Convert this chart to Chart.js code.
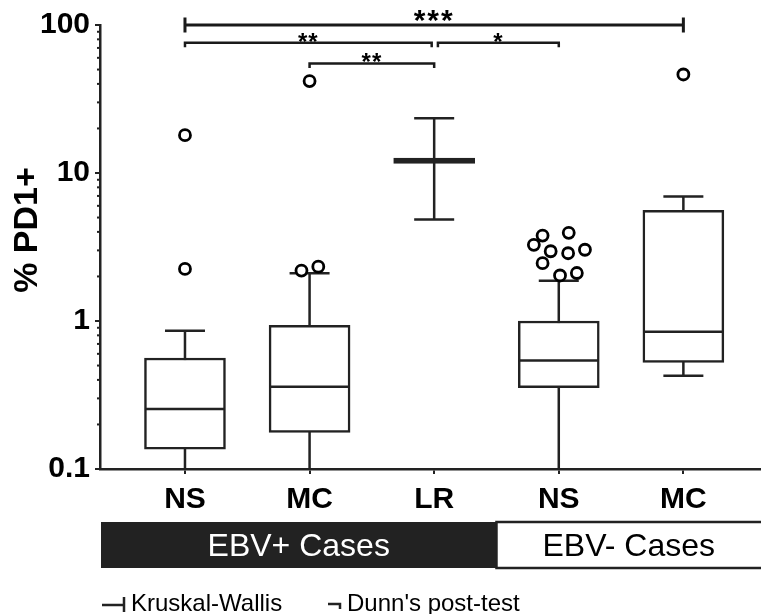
<!DOCTYPE html>
<html>
<head>
<meta charset="utf-8">
<script src="https://cdn.jsdelivr.net/npm/chart.js@4.4.0/dist/chart.umd.min.js"></script>
<style>
    html, body { margin: 0; padding: 0; background: #fff; }
</style>
</head>
<body>
<canvas id="chart" width="761" height="614"></canvas>
<script>
var categories = ['NS', 'MC', 'LR', 'NS', 'MC'];
var whiskerLow = [0.05, 0.05, 4.85, 0.05, 0.427];
var q1 = [0.136, 0.177, 11.6, 0.355, 0.525];
var median = [0.254, 0.359, 12.1, 0.54, 0.846];
var q3 = [0.562, 0.935, 12.6, 1.0, 5.6];
var whiskerHigh = [0.86, 2.1, 23.4, 1.87, 6.95];

var outlierX = [0, 0, 1, 0.935, 1.07, 2.87, 3.08, 2.8, 2.935, 3.075, 3.21, 2.87, 3.01, 3.145, 4];
var outlierY = [18, 2.25, 41.8, 2.19, 2.33, 3.78, 3.94, 3.27, 2.96, 2.87, 3.03, 2.46, 2.03, 2.11, 46.3];

var yTicks = [0.1, 1, 10, 100];
var xMin = -0.682;
var xMax = 4.623;

// significance brackets
var bracketFrom = [0, 0, 1, 2.03];
var bracketTo = [4, 1.98, 2, 3];
var bracketLevel = [100, 75.9, 55, 75.9];
var bracketStars = ['***', '**', '**', '*'];
var bracketKind = ['kw', 'dunn', 'dunn', 'dunn'];

var groupLabels = ['EBV+ Cases', 'EBV- Cases'];
var groupFrom = [xMin, 2.5];
var groupTo = [2.5, xMax];

var FONT = '"Liberation Sans", Arial, Helvetica, sans-serif';
var INK = '#222';

var boxParts = {
    id: 'boxParts',
    beforeDatasetsDraw: function (chart) {
        var ctx = chart.ctx, x = chart.scales.x, y = chart.scales.y, a = chart.chartArea;
        ctx.save();
        ctx.beginPath();
        ctx.rect(a.left, a.top, a.right - a.left, a.bottom - a.top);
        ctx.clip();
        ctx.strokeStyle = INK;
        ctx.lineWidth = 2.5;
        categories.forEach(function (c, i) {
            var px = x.getPixelForValue(i);
            var lo = y.getPixelForValue(whiskerLow[i]);
            var hi = y.getPixelForValue(whiskerHigh[i]);
            ctx.beginPath();
            ctx.moveTo(px, lo); ctx.lineTo(px, hi);
            ctx.moveTo(px - 20, lo); ctx.lineTo(px + 20, lo);
            ctx.moveTo(px - 20, hi); ctx.lineTo(px + 20, hi);
            ctx.stroke();
        });
        ctx.restore();
    },
    afterDatasetDraw: function (chart, args) {
        if (chart.data.datasets[args.index].label !== 'box') return;
        var ctx = chart.ctx, x = chart.scales.x, y = chart.scales.y;
        ctx.save();
        ctx.strokeStyle = INK;
        ctx.lineWidth = 2.5;
        categories.forEach(function (c, i) {
            var px = x.getPixelForValue(i);
            var py = y.getPixelForValue(median[i]);
            ctx.beginPath();
            ctx.moveTo(px - 40, py); ctx.lineTo(px + 40, py);
            ctx.stroke();
        });
        ctx.restore();
    },
    afterDraw: function (chart) {
        var ctx = chart.ctx, x = chart.scales.x, y = chart.scales.y, a = chart.chartArea;
        ctx.save();

        // minor log ticks
        ctx.strokeStyle = INK;
        ctx.lineWidth = 2;
        [0.1, 1, 10].forEach(function (d) {
            for (var m = 2; m <= 9; m++) {
                var py = y.getPixelForValue(m * d);
                ctx.beginPath();
                ctx.moveTo(a.left - 3, py); ctx.lineTo(a.left, py);
                ctx.stroke();
            }
        });

        // y title
        ctx.save();
        ctx.translate(37, 230);
        ctx.rotate(-Math.PI / 2);
        ctx.fillStyle = '#000';
        ctx.font = 'bold 34px ' + FONT;
        ctx.textAlign = 'center';
        ctx.textBaseline = 'alphabetic';
        ctx.fillText('% PD1+', 0, 0);
        ctx.restore();

        // brackets
        ctx.strokeStyle = '#1a1a1a';
        ctx.fillStyle = '#000';
        ctx.textAlign = 'center';
        ctx.textBaseline = 'alphabetic';
        bracketFrom.forEach(function (f, i) {
            var kw = bracketKind[i] === 'kw';
            var x0 = x.getPixelForValue(f), x1 = x.getPixelForValue(bracketTo[i]);
            var py = y.getPixelForValue(bracketLevel[i]);
            ctx.beginPath();
            if (kw) {
                ctx.lineWidth = 3;
                ctx.moveTo(x0, py); ctx.lineTo(x1, py);
                ctx.moveTo(x0, py - 7.5); ctx.lineTo(x0, py + 7.5);
                ctx.moveTo(x1, py - 7.5); ctx.lineTo(x1, py + 7.5);
            } else {
                ctx.lineWidth = 2.5;
                ctx.moveTo(x0, py + 4.5); ctx.lineTo(x0, py); ctx.lineTo(x1, py); ctx.lineTo(x1, py + 4.5);
            }
            ctx.stroke();
            ctx.font = kw ? 'bold 30px ' + FONT : 'bold 24px ' + FONT;
            ctx.letterSpacing = kw ? '2px' : '1px';
            ctx.fillText(bracketStars[i], (x0 + x1) / 2, py + (kw ? 4.5 : 7));
        });
        ctx.letterSpacing = '0px';

        // group bars below the axis
        var gTop = 522, gBot = 568;
        groupLabels.forEach(function (g, i) {
            var gx0 = i === 0 ? x.left + 1 : x.getPixelForValue(groupFrom[i]);
            var gx1 = i === 1 ? x.right + 3 : x.getPixelForValue(groupTo[i]);
            if (i === 0) {
                ctx.fillStyle = INK;
                ctx.fillRect(gx0, gTop, gx1 - gx0, gBot - gTop);
            } else {
                ctx.lineWidth = 2.5;
                ctx.strokeStyle = INK;
                ctx.strokeRect(gx0, gTop, gx1 - gx0, gBot - gTop);
            }
            ctx.fillStyle = i === 0 ? '#fff' : '#000';
            ctx.font = '32px ' + FONT;
            ctx.textAlign = 'center';
            ctx.fillText(g, (gx0 + Math.min(gx1, 761)) / 2, 556);
        });

        // legend
        ctx.strokeStyle = INK;
        ctx.fillStyle = '#000';
        ctx.lineWidth = 2.5;
        ctx.beginPath();
        ctx.moveTo(102, 605); ctx.lineTo(124, 605);
        ctx.moveTo(124, 597); ctx.lineTo(124, 612);
        ctx.moveTo(328, 604); ctx.lineTo(340, 604); ctx.lineTo(340, 609);
        ctx.stroke();
        ctx.font = '24px ' + FONT;
        ctx.textAlign = 'left';
        ctx.fillText('Kruskal-Wallis', 131, 611);
        ctx.fillText("Dunn's post-test", 347, 611);

        ctx.restore();
    }
};

var tickFont = { family: FONT, size: 30, weight: 'bold' };

new Chart(document.getElementById('chart').getContext('2d'), {
    type: 'bar',
    data: {
        datasets: [{
            type: 'scatter',
            label: 'outliers',
            order: 0,
            data: outlierX.map(function (v, i) { return { x: v, y: outlierY[i] }; }),
            pointStyle: 'circle',
            pointRadius: 5.5,
            pointBorderWidth: 2.8,
            pointBackgroundColor: '#fff',
            pointBorderColor: '#000',
            showLine: false
        }, {
            type: 'bar',
            label: 'box',
            order: 1,
            data: categories.map(function (c, i) { return { x: i, y: [q1[i], q3[i]] }; }),
            backgroundColor: '#fff',
            borderColor: INK,
            borderWidth: 2.5,
            borderSkipped: false,
            barThickness: 81,
            grouped: false
        }]
    },
    options: {
        responsive: false,
        animation: false,
        events: [],
        layout: { autoPadding: false, padding: { top: 25, left: 0, right: 0, bottom: 0 } },
        plugins: {
            legend: { display: false },
            tooltip: { enabled: false }
        },
        scales: {
            x: {
                type: 'linear',
                min: xMin,
                max: xMax,
                offset: false,
                afterBuildTicks: function (s) {
                    s.ticks = categories.map(function (c, i) { return { value: i }; });
                },
                afterFit: function (s) {
                    s.height = 145;
                    s.paddingLeft = 0;
                    s.paddingRight = 0;
                },
                ticks: {
                    callback: function (v) { return categories[v]; },
                    font: tickFont,
                    color: '#000',
                    padding: 8,
                    autoSkip: false,
                    maxRotation: 0
                },
                grid: { offset: false, drawOnChartArea: false, drawTicks: true, tickLength: 5, color: INK, lineWidth: 2 },
                border: { display: true, color: INK, width: 2.5 }
            },
            y: {
                type: 'logarithmic',
                min: 0.1,
                max: 100,
                afterBuildTicks: function (s) {
                    s.ticks = yTicks.map(function (v) { return { value: v }; });
                },
                afterFit: function (s) { s.width = 100; },
                ticks: {
                    callback: function (v) { return String(v); },
                    font: tickFont,
                    color: '#000',
                    padding: 5
                },
                grid: { drawOnChartArea: false, drawTicks: true, tickLength: 5, color: INK, lineWidth: 2 },
                border: { display: true, color: INK, width: 2.5 }
            }
        }
    },
    plugins: [boxParts]
});
</script>
</body>
</html>
